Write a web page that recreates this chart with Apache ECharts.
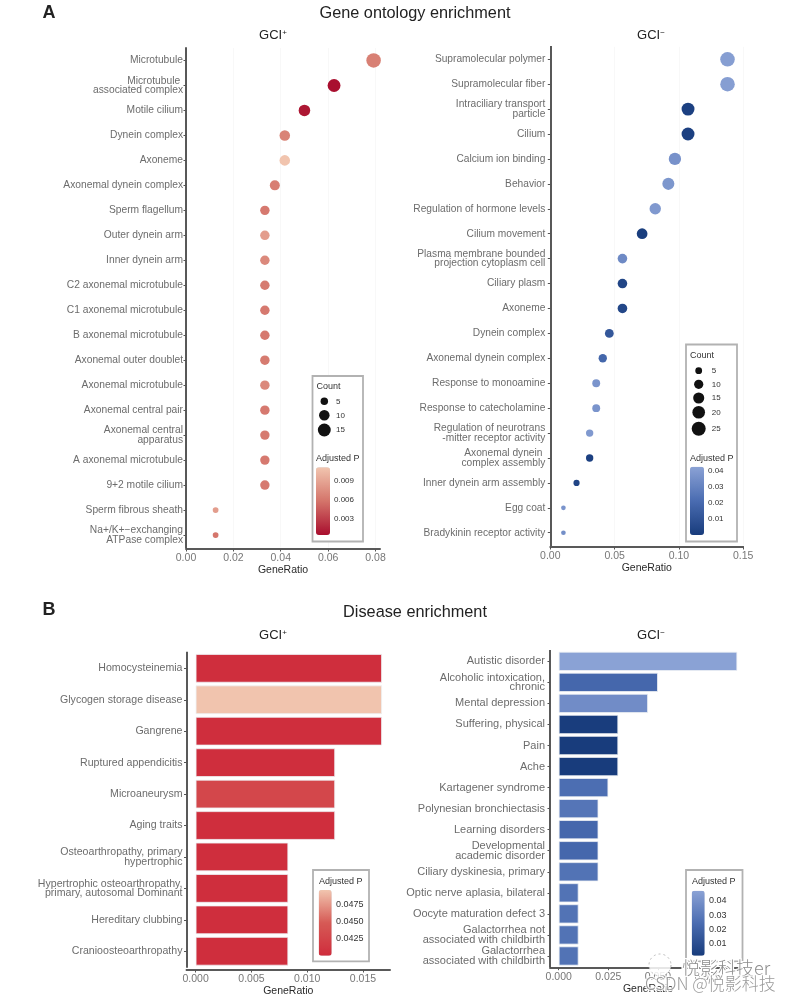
<!DOCTYPE html>
<html>
<head>
    <meta charset="utf-8">
    <title>Enrichment</title>
    <script src="https://cdn.jsdelivr.net/npm/echarts@6/dist/echarts.min.js"></script>
    <style>html,body{margin:0;background:#fff}</style>
</head>
<body>
    <div id="main" style="width:799px;height:1001px;"></div>
    <script type="text/javascript">
    // A, GCI+
    var goPosNames = ['Microtubule', 'Microtubule \nassociated complex', 'Motile cilium', 'Dynein complex', 'Axoneme', 'Axonemal dynein complex', 'Sperm flagellum', 'Outer dynein arm', 'Inner dynein arm', 'C2 axonemal microtubule', 'C1 axonemal microtubule', 'B axonemal microtubule', 'Axonemal outer doublet', 'Axonemal microtubule', 'Axonemal central pair', 'Axonemal central\napparatus', 'A axonemal microtubule', '9+2 motile cilium', 'Sperm fibrous sheath', 'Na+/K+\u2212exchanging\nATPase complex'];
    var goPosRatio = [0.0792, 0.0625, 0.05, 0.0417, 0.0417, 0.0375, 0.0333, 0.0333, 0.0333, 0.0333, 0.0333, 0.0333, 0.0333, 0.0333, 0.0333, 0.0333, 0.0333, 0.0333, 0.0125, 0.0125];
    var goPosCount = [19, 15, 12, 10, 10, 9, 8, 8, 8, 8, 8, 8, 8, 8, 8, 8, 8, 8, 3, 3];
    var goPosP = [0.0066, 0.0006, 0.001, 0.0068, 0.0111, 0.0065, 0.0062, 0.0085, 0.0072, 0.0063, 0.0062, 0.0062, 0.0063, 0.0072, 0.0062, 0.0063, 0.0062, 0.0062, 0.0085, 0.006];

    // A, GCI-
    var goNegNames = ['Supramolecular polymer', 'Supramolecular fiber', 'Intraciliary transport\nparticle', 'Cilium', 'Calcium ion binding', 'Behavior', 'Regulation of hormone levels', 'Cilium movement', 'Plasma membrane bounded\nprojection cytoplasm cell', 'Ciliary plasm', 'Axoneme', 'Dynein complex', 'Axonemal dynein complex', 'Response to monoamine', 'Response to catecholamine', 'Regulation of neurotrans\n-mitter receptor activity', 'Axonemal dynein \ncomplex assembly', 'Inner dynein arm assembly', 'Egg coat', 'Bradykinin receptor activity'];
    var goNegRatio = [0.1378, 0.1378, 0.1071, 0.1071, 0.0969, 0.0918, 0.0816, 0.0714, 0.0561, 0.0561, 0.0561, 0.0459, 0.0408, 0.0357, 0.0357, 0.0306, 0.0306, 0.0204, 0.0102, 0.0102];
    var goNegCount = [27, 27, 21, 21, 19, 18, 16, 14, 11, 11, 11, 9, 8, 7, 7, 6, 6, 4, 2, 2];
    var goNegP = [0.041, 0.041, 0.002, 0.002, 0.036, 0.038, 0.039, 0.001, 0.033, 0.004, 0.005, 0.012, 0.019, 0.037, 0.037, 0.039, 0.002, 0.004, 0.037, 0.035];

    // B, GCI+
    var doPosNames = ['Homocysteinemia', 'Glycogen storage disease', 'Gangrene', 'Ruptured appendicitis', 'Microaneurysm', 'Aging traits', 'Osteoarthropathy, primary\nhypertrophic', 'Hypertrophic osteoarthropathy,\nprimary, autosomal Dominant', 'Hereditary clubbing', 'Cranioosteoarthropathy'];
    var doPosRatio = [0.0167, 0.0167, 0.0167, 0.0125, 0.0125, 0.0125, 0.0083, 0.0083, 0.0083, 0.0083];
    var doPosP = [0.0401, 0.0497, 0.0401, 0.0401, 0.0428, 0.0401, 0.0401, 0.0401, 0.0401, 0.0401];

    // B, GCI-
    var doNegNames = ['Autistic disorder', 'Alcoholic intoxication,\nchronic', 'Mental depression', 'Suffering, physical', 'Pain', 'Ache', 'Kartagener syndrome', 'Polynesian bronchiectasis', 'Learning disorders', 'Developmental\nacademic disorder', 'Ciliary dyskinesia, primary', 'Optic nerve aplasia, bilateral', 'Oocyte maturation defect 3', 'Galactorrhea not\nassociated with childbirth', 'Galactorrhea\nassociated with childbirth'];
    var doNegRatio = [0.09, 0.05, 0.045, 0.03, 0.03, 0.03, 0.025, 0.02, 0.02, 0.02, 0.02, 0.01, 0.01, 0.01, 0.01];
    var doNegP = [0.047, 0.022, 0.038, 0.0016, 0.0014, 0.0014, 0.025, 0.028, 0.022, 0.022, 0.027, 0.027, 0.027, 0.027, 0.027];

    // axis ticks
    var goPosTicks = [0, 0.02, 0.04, 0.06, 0.08];
    var goNegTicks = [0, 0.05, 0.1, 0.15];
    var doPosTicks = [0, 0.005, 0.01, 0.015];
    var doNegTicks = [0, 0.025, 0.05, 0.075];

    // legends
    var goPosLegendCounts = [5, 10, 15];
    var goNegLegendCounts = [5, 10, 15, 20, 25];
    var goPosLegendP = ['0.009', '0.006', '0.003'];
    var goNegLegendP = ['0.04', '0.03', '0.02', '0.01'];
    var doPosLegendP = ['0.0475', '0.0450', '0.0425'];
    var doNegLegendP = ['0.04', '0.03', '0.02', '0.01'];

    var FONT = '"Liberation Sans", Arial, sans-serif';
    var REDS = ['#a90e2e', '#d4746a', '#f1c5af'];
    var BLUES = ['#183c7c', '#4a6cb1', '#8ba2d5'];
    var BAR_REDS = ['#cf2c3c', '#d65a55', '#f1c5af'];

    var goPosSize = function (c) { return 3.33 * Math.sqrt(c); };
    var goNegSize = function (c) { return 1 + 2.6 * Math.sqrt(c); };

    function rows(names, ratio, p, count) {
        return names.map(function (n, i) {
            return [ratio[i], n, p[i], count ? count[i] : 0];
        });
    }

    function grid(left, top, width, height) {
        return {left: left, top: top, width: width, height: height};
    }

    function xAxis(i, min, max, ticks, offset, gap, split) {
        return {
            type: 'value', gridIndex: i, min: min, max: max, position: 'bottom', offset: offset,
            name: 'GeneRatio', nameLocation: 'middle', nameGap: gap,
            nameTextStyle: {fontFamily: FONT, fontSize: 10.5, color: '#2a2a2a'},
            axisLine: {show: true, onZero: false, lineStyle: {color: '#222', width: 1.5, cap: 'square'}},
            axisTick: {show: true, length: 2.5, lineStyle: {color: '#555'}, customValues: ticks},
            axisLabel: {
                fontFamily: FONT, fontSize: 10.5, color: '#777', margin: 4,
                customValues: ticks,
                formatter: function (v) { return v.toFixed(split); }
            },
            splitLine: {show: split == 2, lineStyle: {color: '#f8f8f8'}}
        };
    }

    function yAxis(i, names, size, margin) {
        return {
            type: 'category', gridIndex: i, data: names, inverse: true,
            axisLine: {show: true, onZero: false, lineStyle: {color: '#222', width: 1.5, cap: 'square'}},
            axisTick: {show: true, length: 2.5, alignWithLabel: true, lineStyle: {color: '#555'}},
            axisLabel: {interval: 0, fontFamily: FONT, fontSize: size, lineHeight: 9.5, color: '#6c6c6c', margin: margin, padding: [4, 0, 0, 0]}
        };
    }

    function dots(i, data, sizeFn) {
        return {
            type: 'scatter', xAxisIndex: i, yAxisIndex: i, data: data, z: 2,
            encode: {x: 0, y: 1},
            itemStyle: {opacity: 1},
            symbolSize: function (v) { return sizeFn(v[3]); }
        };
    }

    function bars(i, data) {
        return {
            type: 'bar', xAxisIndex: i, yAxisIndex: i, data: data, z: 2, barWidth: '91%',
            encode: {x: 0, y: 1},
            itemStyle: {borderColor: '#eef0f4', borderWidth: 0.8}
        };
    }

    function colorbar(i, min, max, colors, left, top, w, h) {
        return {
            type: 'continuous', seriesIndex: i, dimension: 2, min: min, max: max,
            inRange: {color: colors}, left: left, top: top, itemWidth: w, itemHeight: h,
            padding: 0, borderRadius: 0, calculable: false, hoverLink: false, z: 6
        };
    }

    function label(text, x, y, size, color) {
        return {
            type: 'text', x: x, y: y, z: 7, silent: true,
            style: {text: text, fontFamily: FONT, fontSize: size, fill: color || '#333', verticalAlign: 'middle'}
        };
    }

    function box(x, y, w, h) {
        return {
            type: 'rect', z: 1, silent: true, shape: {x: x, y: y, width: w, height: h},
            style: {fill: '#fff', stroke: '#b2b2b2', lineWidth: 1.8}
        };
    }

    function gciTitle(sign, x, y) {
        return {
            text: '{a|GCI}{b|' + sign + '}', left: x, top: y, textAlign: 'center', padding: 0,
            textStyle: {
                rich: {
                    a: {fontFamily: FONT, fontSize: 13, fontWeight: 'normal', color: '#222'},
                    b: {fontFamily: FONT, fontSize: 8, fontWeight: 'normal', color: '#222', padding: [0, 0, 5, 0]}
                }
            }
        };
    }

    function bigTitle(text, x, y, size, weight) {
        return {
            text: text, left: x, top: y, textAlign: 'center', padding: 0,
            textStyle: {fontFamily: FONT, fontSize: size, fontWeight: weight, color: '#222'}
        };
    }

    // legend boxes, all placed by hand next to the plots
    var legendItems = [];

    function countLegend(counts, sizeFn, cx, ys, tx) {
        counts.forEach(function (c, i) {
            legendItems.push({
                type: 'circle', z: 7, silent: true, shape: {cx: cx, cy: ys[i], r: sizeFn(c) / 2},
                style: {fill: '#111'}
            });
            legendItems.push(label(String(c), tx, ys[i], 8));
        });
    }

    function pLabels(labels, x, ys, size) {
        labels.forEach(function (t, i) { legendItems.push(label(t, x, ys[i], size)); });
    }

    legendItems.push(box(312.5, 376, 50.5, 165.5));
    legendItems.push(label('Count', 316.5, 386.5, 9));
    countLegend(goPosLegendCounts, goPosSize, 324.3, [401.3, 415.3, 430], 336);
    legendItems.push(label('Adjusted P', 316, 459, 9));
    pLabels(goPosLegendP, 334, [481, 500, 519], 8);

    legendItems.push(box(686, 344.5, 51, 197));
    legendItems.push(label('Count', 690, 356, 9));
    countLegend(goNegLegendCounts, goNegSize, 698.7, [370.7, 384.3, 398, 412.3, 428.7], 711.7);
    legendItems.push(label('Adjusted P', 690, 458.7, 9));
    pLabels(goNegLegendP, 708, [470.7, 486.7, 502.7, 518.7], 8);

    legendItems.push(box(313, 870, 56, 91.3));
    legendItems.push(label('Adjusted P', 319, 881.7, 9));
    pLabels(doPosLegendP, 336, [905, 921.7, 938.3], 9);

    legendItems.push(box(686, 870, 56.5, 91.3));
    legendItems.push(label('Adjusted P', 692, 882, 9));
    pLabels(doNegLegendP, 709, [901, 915.3, 930, 944], 9);

    // watermark over the lower right corner
    legendItems.push({
        type: 'circle', z: 20, silent: true, shape: {cx: 660, cy: 965, r: 11},
        style: {fill: 'rgba(255,255,255,0.85)', stroke: '#bbb', lineWidth: 1, lineDash: [2, 3]}
    });
    legendItems.push({
        type: 'text', x: 682, y: 968, z: 21, silent: true,
        style: {text: '\u60a6\u5f71\u79d1\u6280er', fontFamily: '"Noto Sans CJK SC"', fontSize: 18, fontWeight: 300, fill: 'rgba(110,110,110,0.8)', stroke: '#fff', lineWidth: 2.5, verticalAlign: 'middle'}
    });
    legendItems.push({
        type: 'text', x: 645, y: 984, z: 21, silent: true,
        style: {text: 'CSDN @\u60a6\u5f71\u79d1\u6280', fontFamily: '"Noto Sans CJK SC"', fontSize: 17, fontWeight: 300, fill: 'rgba(120,120,120,0.75)', stroke: 'rgba(255,255,255,0.8)', lineWidth: 2.5, verticalAlign: 'middle'}
    });

    var myChart = echarts.init(document.getElementById('main'), null, {renderer: 'canvas'});

    var option = {
        animation: false,
        backgroundColor: '#fff',
        title: [
            bigTitle('A', 49, 4, 18, 'bold'),
            bigTitle('B', 49, 601, 18, 'bold'),
            bigTitle('Gene ontology enrichment', 415, 5.5, 16.3, 'normal'),
            bigTitle('Disease enrichment', 415, 605, 16.3, 'normal'),
            gciTitle('+', 273, 29),
            gciTitle('\u2212', 651, 29),
            gciTitle('+', 273, 629),
            gciTitle('\u2212', 651, 629)
        ],
        grid: [
            grid(186, 48, 194, 499.5),
            grid(550.3, 46.8, 192.9, 498.4),
            grid(186.5, 652.6, 203.5, 314.4),
            grid(550, 650.8, 196, 315.7)
        ],
        xAxis: [
            xAxis(0, 0, 0.0819, goPosTicks, 1.5, 14, 2),
            xAxis(1, 0, 0.15, goNegTicks, 1.8, 15, 2),
            xAxis(2, -0.00082, 0.01742, doPosTicks, 3, 14, 3),
            xAxis(3, -0.0044, 0.0944, doNegTicks, 1.2, 14, 3)
        ],
        yAxis: [
            yAxis(0, goPosNames, 10.25, 3),
            yAxis(1, goNegNames, 10.2, 5),
            yAxis(2, doPosNames, 10.6, 4),
            yAxis(3, doNegNames, 11, 5)
        ],
        visualMap: [
            colorbar(0, 0.00055, 0.01114, REDS, 316, 467.3, 14, 67.7),
            colorbar(1, 0.0002, 0.0425, BLUES, 690, 466.7, 14, 68.3),
            colorbar(2, 0.0399, 0.04975, BAR_REDS, 318.7, 890, 13, 65.7),
            colorbar(3, 0.0012, 0.0472, BLUES, 691.7, 890.7, 13, 65)
        ],
        graphic: {elements: legendItems},
        series: [
            dots(0, rows(goPosNames, goPosRatio, goPosP, goPosCount), goPosSize),
            dots(1, rows(goNegNames, goNegRatio, goNegP, goNegCount), goNegSize),
            bars(2, rows(doPosNames, doPosRatio, doPosP)),
            bars(3, rows(doNegNames, doNegRatio, doNegP))
        ]
    };

    myChart.setOption(option);
    </script>
</body>
</html>
